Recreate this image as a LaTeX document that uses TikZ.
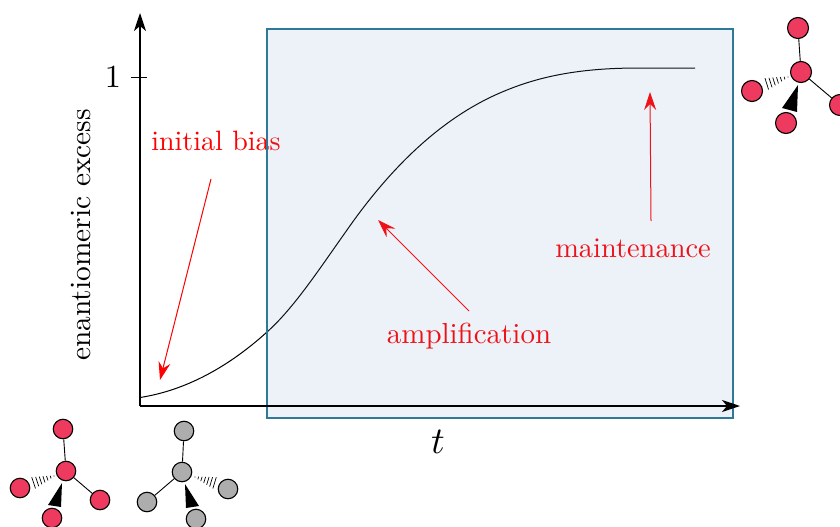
\documentclass[tikz,border=0pt]{standalone}
\usetikzlibrary{arrows.meta,calc}
\definecolor{panelfill}{RGB}{105,150,200}
\definecolor{paneledge}{HTML}{2E7899}
\definecolor{atomred}{HTML}{EE3A5E}
\definecolor{atomgray}{HTML}{ADADAD}
\tikzset{
  x=1pt,y=-1pt,
  lab/.style={scale=2.8,inner sep=0pt},
  redlab/.style={lab,text=red},
  axisline/.style={line width=1.6pt,-{Stealth[length=18pt,width=12pt,inset=5pt]}},
  redarrow/.style={red,line width=1pt,-{Stealth[length=18pt,width=12pt,inset=6pt]}},
  atom/.style={circle,draw=black,line width=1.1pt,minimum size=19.5pt,inner sep=0pt},
  redatom/.style={atom,fill=atomred},
  grayatom/.style={atom,fill=atomgray},
  bigatom/.style={redatom,minimum size=21pt},
  bond/.style={black,line width=0.9pt},
}
\newcommand{\hashbond}[2]{%
  \foreach \t/\w in {0/0.5,0.14/1.4,0.28/2.3,0.42/3.2,0.56/4.1,0.7/5,0.85/5.9,1/6.8}{
    \draw[black,line width=0.7pt] ($(#1)!\t!(#2)!\w pt!90:(#2)$) -- ($(#1)!\t!(#2)!\w pt!-90:(#2)$);
  }%
}
\begin{document}
\begin{tikzpicture}
\useasboundingbox (0,0) rectangle (840,527);
% curve
\draw[black,line width=1pt] (140,397.5) .. controls (182,391) and (225,370) .. (267,332)
  .. controls (294,308) and (320,268) .. (347,230)
  .. controls (400,154) and (454,111) .. (507,90)
  .. controls (551,72) and (596,68) .. (640,68) -- (695,68);
% labels and red arrows, under the panel
\node[redlab] (bias) at (216,141) {initial bias};
\node[redlab,scale=1.035] (amp) at (469,336) {amplification};
\node[redlab,scale=1.015] (maint) at (633,248.5) {maintenance};
\coordinate (biasS) at (211,179);
\coordinate (biasE) at (160,380);
\coordinate (ampS) at (469,311);
\coordinate (ampE) at (378,220);
\coordinate (mS) at (651,221);
\coordinate (mE) at (650,92);
\draw[redarrow] (biasS) -- (biasE);
\draw[redarrow] (ampS) -- (ampE);
\draw[redarrow] (mS) -- (mE);
% panel
\fill[panelfill,fill opacity=0.12] (267,29) rectangle (733,418);
\draw[paneledge,line width=1.8pt] (267,29) rectangle (733,418);
% axes
\coordinate (origin) at (140,406);
\coordinate (ytop) at (140,13);
\coordinate (xend) at (740,406);
\draw[axisline] (origin) -- (ytop);
\draw[axisline] (origin) -- (xend);
\coordinate (tickl) at (131,77);
\coordinate (tickr) at (147,77);
\draw[black,line width=0.9pt] (tickl) -- (tickr);
\node[lab,scale=1.15] (one) at (113,77) {$1$};
\node[lab,scale=1.35] (tlabel) at (438,442) {$t$};
\node[lab,scale=1.05,rotate=90] (ylab) at (81,235) {enantiomeric excess};
% molecule 1
\node[redatom] (ac) at (66,471) {};
\node[redatom] (at) at (63,429) {};
\node[redatom] (al) at (20,488) {};
\node[redatom] (ab) at (52,518) {};
\node[redatom] (ar) at (100,500) {};
\draw[bond] (ac) -- (at);
\draw[bond] (ac) -- (ar);
\fill[black] (62,483) -- (48,505) -- (61,507) -- cycle;
\coordinate (ah1) at (54,476);
\coordinate (ah2) at (30,484);
\hashbond{ah1}{ah2}
% molecule 2
\node[grayatom] (bc) at (182,472) {};
\node[grayatom] (bt) at (184,431) {};
\node[grayatom] (bl) at (147,502) {};
\node[grayatom] (bb) at (196,519) {};
\node[grayatom] (br) at (228,489) {};
\draw[bond] (bc) -- (bt);
\draw[bond] (bc) -- (bl);
\fill[black] (185,484) -- (186,508) -- (199,506) -- cycle;
\coordinate (bh1) at (195,477);
\coordinate (bh2) at (218,484);
\hashbond{bh1}{bh2}
% molecule 3
\node[bigatom] (cc) at (801,72) {};
\node[bigatom] (ct) at (798,28) {};
\node[bigatom] (cl) at (752,91) {};
\node[bigatom] (cb) at (786,123) {};
\node[bigatom] (cr) at (840,105) {};
\draw[bond] (cc) -- (ct);
\draw[bond] (cc) -- (cr);
\fill[black] (798,85) -- (782,108) -- (797,112) -- cycle;
\coordinate (ch1) at (788,77);
\coordinate (ch2) at (763,85);
\hashbond{ch1}{ch2}
\end{tikzpicture}
\end{document}
